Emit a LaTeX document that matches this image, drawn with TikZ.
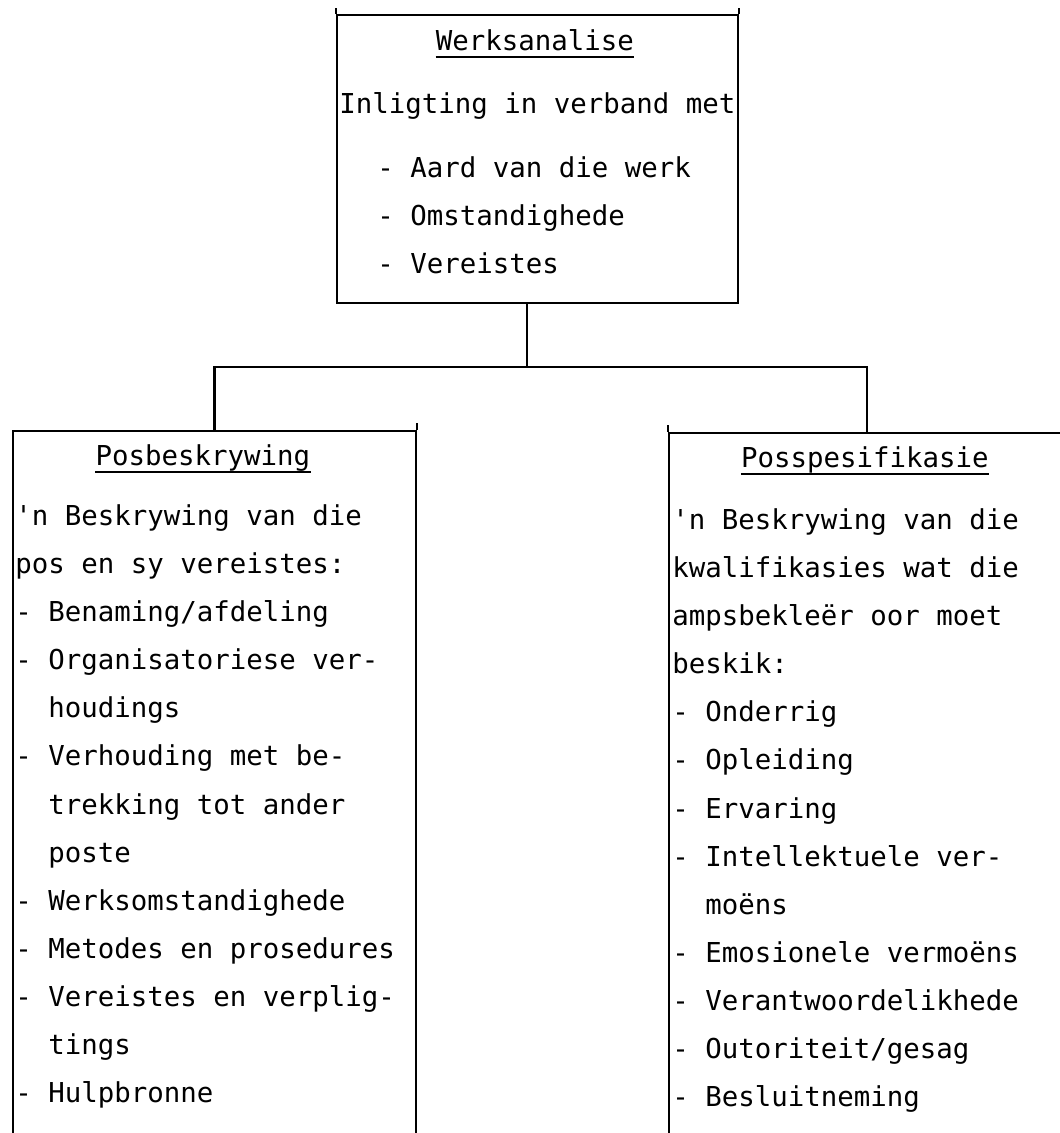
\documentclass[tikz,border=0pt]{standalone}
\usepackage{fontspec}
\newfontfamily\typefont{DejaVu Sans Mono}

\tikzset{
  box/.style={draw, line width=1.3pt, inner sep=0pt, anchor=north west},
  txt/.style={font=\typefont\fontsize{15.6pt}{27.4pt}\selectfont,
    inner sep=0pt, align=left, anchor=north west},
  head/.style={font=\typefont\fontsize{15.6pt}{27.4pt}\selectfont,
    inner sep=0pt, anchor=base},
  ul/.style={line width=1.2pt},
  link/.style={line width=1.3pt}
}

\begin{document}
\begin{tikzpicture}[x=0.02cm, y=-0.02cm]
  \useasboundingbox (0,0) rectangle (1060,1133);
  \clip (0,0) rectangle (1060,1133);

  % boxes
  \node[box, minimum width=8.02cm, minimum height=5.76cm] (werk) at (336,14) {};
  \node[box, minimum width=8.06cm, minimum height=15cm] (posbes) at (12,430) {};
  \node[box, minimum width=7.92cm, minimum height=15cm] (posspes) at (668,432) {};

  % side lines run on a little above the top edges
  \draw[link] (werk.north west) -- ++(0,-6);
  \draw[link] (werk.north east) -- ++(0,-6);
  \draw[link] (posbes.north east) -- ++(0,-7);
  \draw[link] (posspes.north west) -- ++(0,-7);

  % connectors
  \coordinate (split) at (527,367);
  \draw[link] (werk.south -| split) -- (split);
  \draw[link] (posbes.north) |- (split) -| (posspes.north);

  % headings
  \node[head] (werkkop) at (535,50) {Werksanalise};
  \node[head] (posbeskop) at (203,465) {Posbeskrywing};
  \node[head] (posspeskop) at (865,467) {Posspesifikasie};
  \draw[ul] ([yshift=-4pt]werkkop.base west) -- ([yshift=-4pt]werkkop.base east);
  \draw[ul] ([yshift=-4pt]posbeskop.base west) -- ([yshift=-4pt]posbeskop.base east);
  \draw[ul] ([yshift=-4pt]posspeskop.base west) -- ([yshift=-4pt]posspeskop.base east);

  % top box
  \node[txt, anchor=base west] (inligting) at (339,113) {Inligting in verband met};
  \node[txt] (werklys) at (377,156) {- Aard van die werk\\- Omstandighede\\- Vereistes};

  % left box
  \node[txt] (posbeslys) at (15,504) {\textquotesingle n Beskrywing van die\\
    pos en sy vereistes:\\
    - Benaming/afdeling\\
    - Organisatoriese ver-\\
    \phantom{- }houdings\\
    - Verhouding met be-\\
    \phantom{- }trekking tot ander\\
    \phantom{- }poste\\
    - Werksomstandighede\\
    - Metodes en prosedures\\
    - Vereistes en verplig-\\
    \phantom{- }tings\\
    - Hulpbronne};

  % right box
  \node[txt] (posspeslys) at (672,508) {\textquotesingle n Beskrywing van die\\
    kwalifikasies wat die\\
    ampsbekleër oor moet\\
    beskik:\\
    - Onderrig\\
    - Opleiding\\
    - Ervaring\\
    - Intellektuele ver-\\
    \phantom{- }moëns\\
    - Emosionele vermoëns\\
    - Verantwoordelikhede\\
    - Outoriteit/gesag\\
    - Besluitneming};
\end{tikzpicture}
\end{document}
